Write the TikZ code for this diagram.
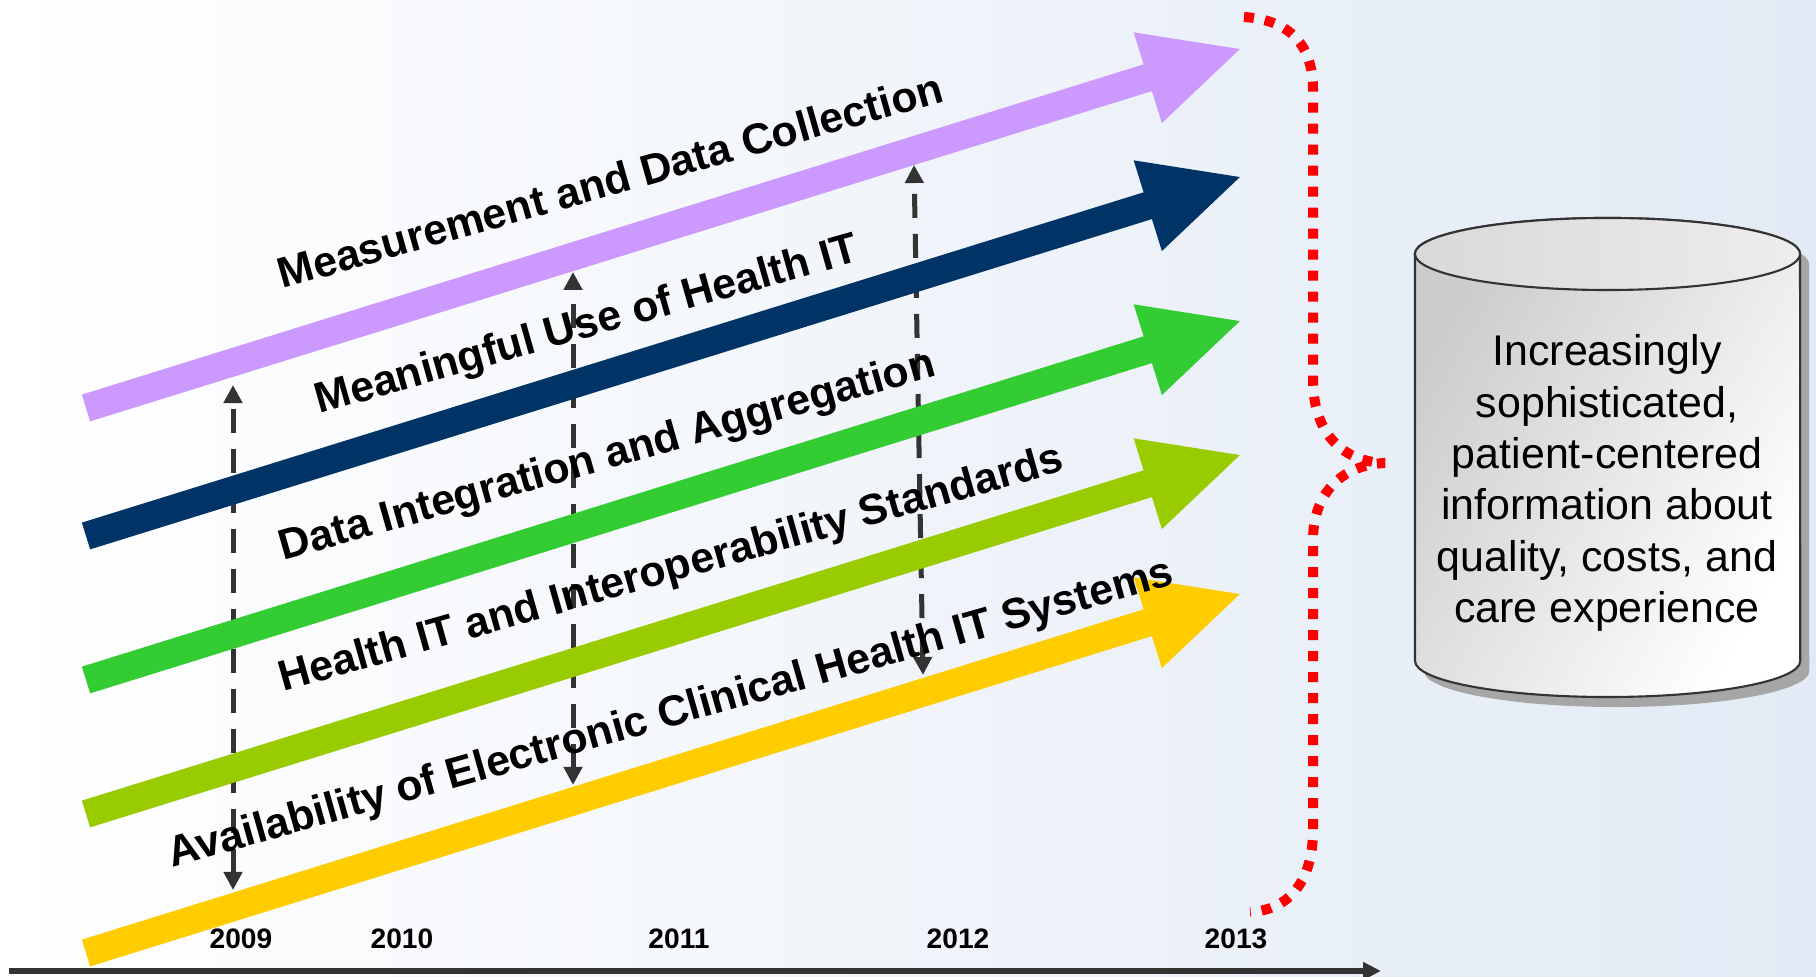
\documentclass[tikz,border=0pt]{standalone}
\usepackage{fontspec}
\setmainfont{Liberation Sans}
\usetikzlibrary{arrows.meta}
\definecolor{bgblue}{RGB}{226,234,245}
\definecolor{cPurple}{HTML}{CC99FF}
\definecolor{cNavy}{HTML}{003366}
\definecolor{cGreen}{HTML}{33CC33}
\definecolor{cLime}{HTML}{99CC00}
\definecolor{cYellow}{HTML}{FFCC00}
\definecolor{axisgray}{HTML}{333333}
\tikzset{
  lab/.style={font=\bfseries\fontsize{12.2}{14}\selectfont, rotate=15.8, anchor=base west, inner sep=0pt},
  yr/.style={font=\bfseries\fontsize{8}{9}\selectfont, inner sep=0pt},
  dashline/.style={draw=axisgray, line width=0.05cm, dash pattern=on 0.24cm off 0.16cm,
    {Triangle[length=0.18cm,width=0.18cm]}-{Triangle[length=0.18cm,width=0.18cm]}},
  brace/.style={draw=red, line width=0.1cm, dash pattern=on 0.1cm off 0.11cm},
  drum/.style={draw=black!80, line width=0.6pt, left color=black!20, right color=white, shading angle=60}
}
\begin{document}
\begin{tikzpicture}[x=0.01cm, y=-0.01cm]
\useasboundingbox (0,0) rectangle (1816,977);
\shade[left color=white, right color=bgblue] (0,0) rectangle (1816,977);
%time line
\coordinate (ax0) at (9,971);
\coordinate (ax1) at (1381,971);
\draw[axisgray, line width=0.06cm, -{Triangle[length=0.18cm,width=0.17cm]}] (ax0) -- (ax1);
\foreach \yy/\x in {2009/241, 2010/402, 2011/679, 2012/958, 2013/1236}
\node[yr] (y\yy) at (\x,939) {\yy};
%dashed links
\coordinate (d1t) at (233,385);
\coordinate (d1b) at (233,890);
\coordinate (d2t) at (573,272);
\coordinate (d2b) at (573,785);
\coordinate (d3t) at (914,165);
\coordinate (d3b) at (923,675);
\draw[dashline] (d1b) -- (d1t);
\draw[dashline] (d2b) -- (d2t);
\draw[dashline] (d3b) -- (d3t);
%arrows
\foreach \c/\y in {cPurple/408, cNavy/536, cGreen/680, cLime/814, cYellow/953}
\fill[\c, shift={(86,\y)}, rotate=17.28]
  (0,-14) -- (1112,-14) -- (1112,-47.5) -- (1208.5,0) -- (1112,47.5) -- (1112,14) -- (0,14) -- cycle;
%labels
\node[lab] (mdc) at (282,289) {Measurement and Data Collection};
\node[lab] (mu) at (319,414) {Meaningful Use of Health IT};
\node[lab] (dia) at (283,561) {Data Integration and Aggregation};
\node[lab] (his) at (283,692) {Health IT and Interoperability Standards};
\node[lab] (aec) at (172,868) {Availability of Electronic Clinical Health IT Systems};
%brace
\draw[brace] (1244,17) .. controls (1290,20) and (1313,45) .. (1313,90) -- (1313,380)
  .. controls (1313,430) and (1340,462) .. (1385,463)
  .. controls (1340,465) and (1313,495) .. (1313,540) -- (1313,830)
  .. controls (1313,880) and (1290,910) .. (1250,912);
%database
\fill[black!35, shift={(9,10)}] (1415,254) -- (1415,661) arc[start angle=180, end angle=360, x radius=1.925cm, y radius=0.36cm]
  -- (1800,254) arc[start angle=0, end angle=180, x radius=1.925cm, y radius=0.36cm] -- cycle;
\path[drum] (1415,254) -- (1415,661) arc[start angle=180, end angle=360, x radius=1.925cm, y radius=0.36cm]
  -- (1800,254) arc[start angle=0, end angle=180, x radius=1.925cm, y radius=0.36cm] -- cycle;
\path[drum, left color=black!15, right color=black!7] (1607.5,254) ellipse [x radius=1.925cm, y radius=0.36cm];
\node[align=center, font=\fontsize{12.2}{14.6}\selectfont] (info) at (1607,483)
  {Increasingly\\sophisticated,\\patient-centered\\information about\\quality, costs, and\\care experience};
\end{tikzpicture}
\end{document}
